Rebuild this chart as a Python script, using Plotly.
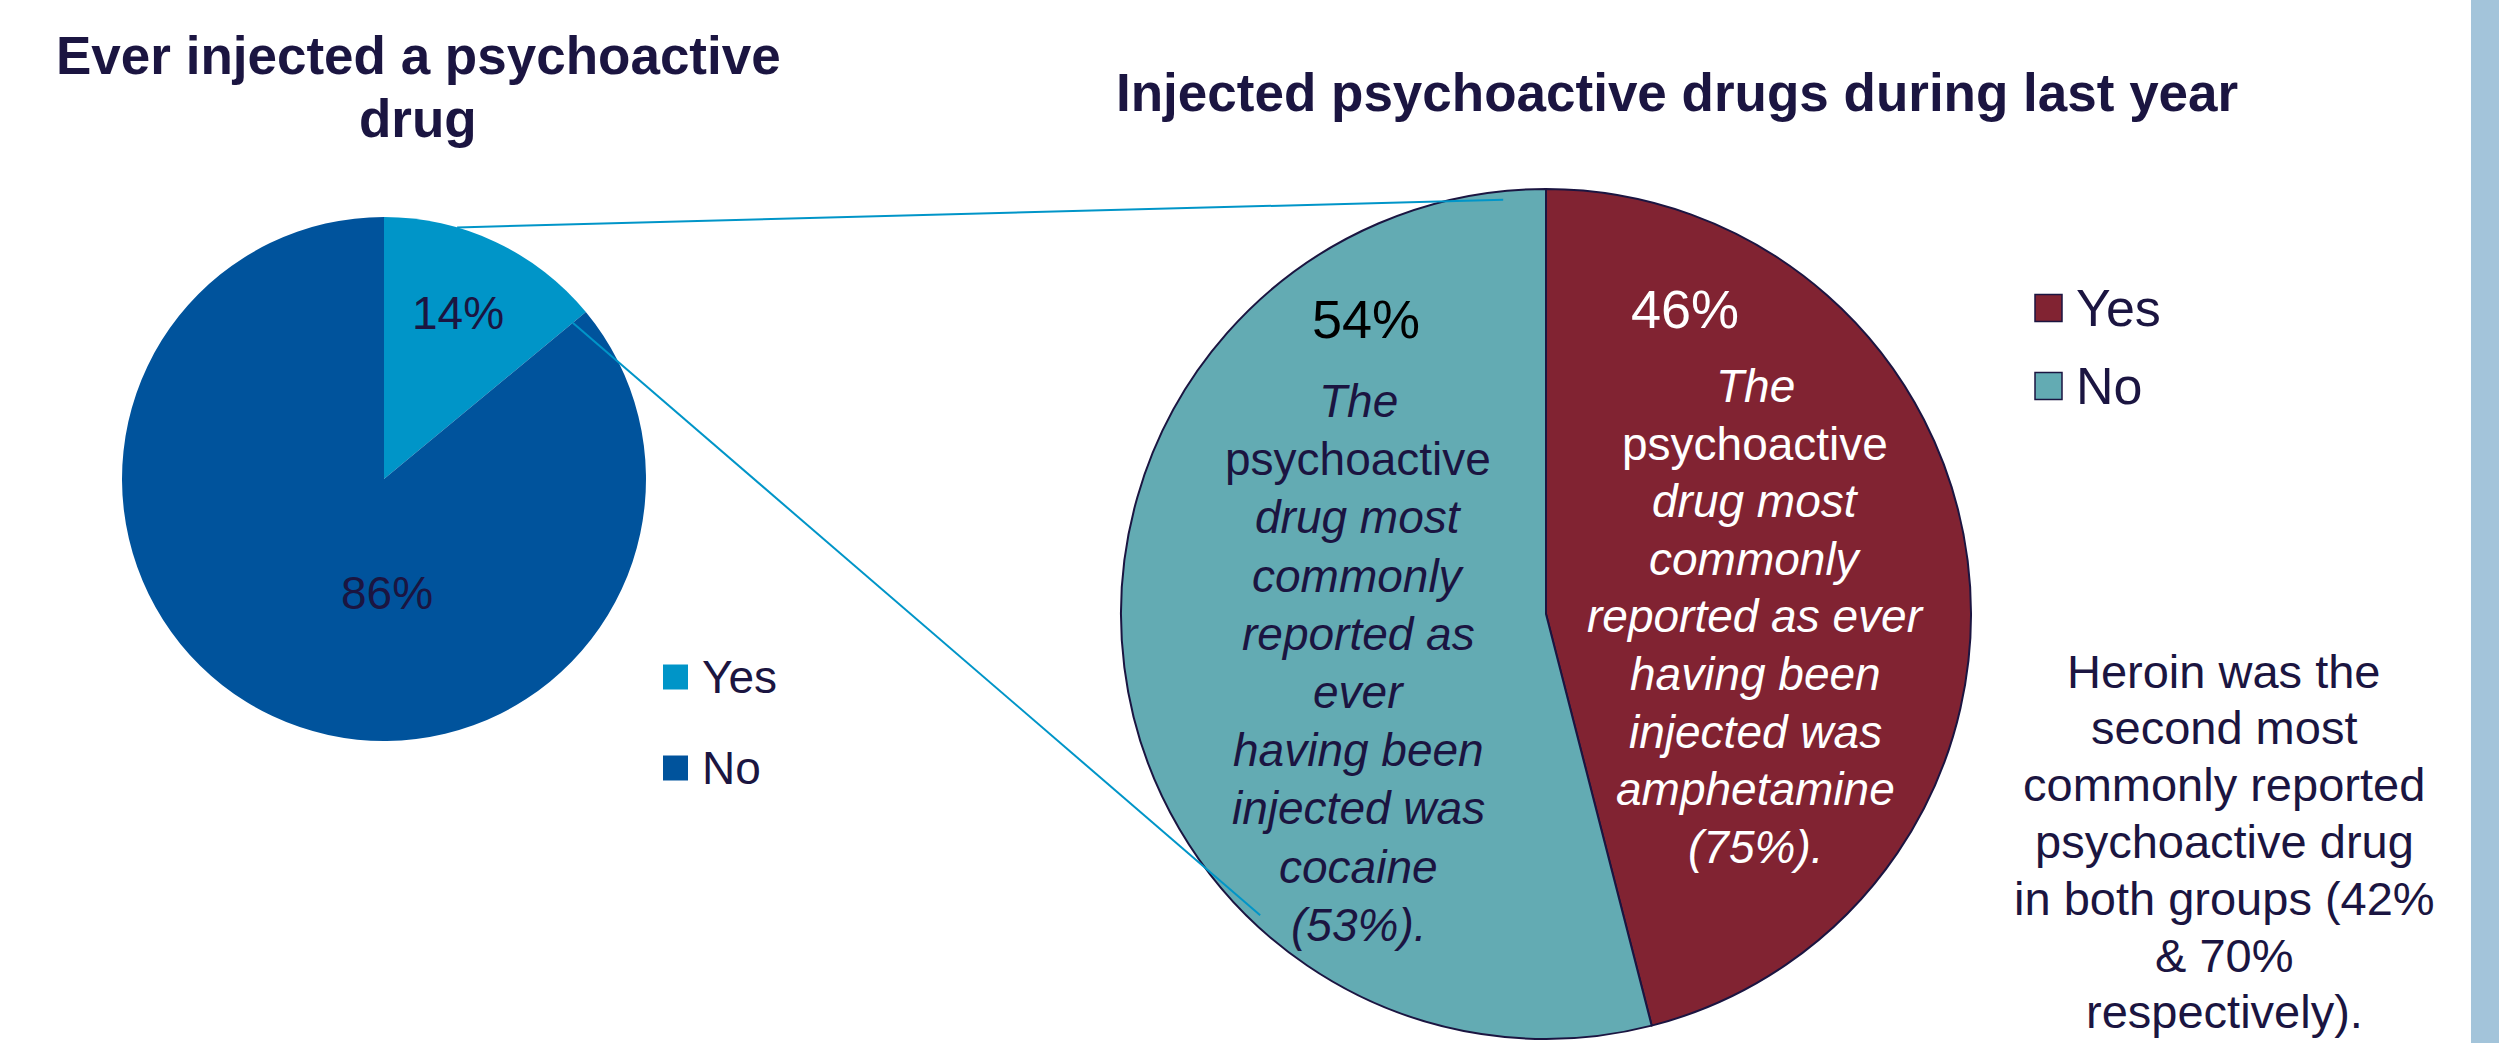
import math
import plotly.graph_objects as go

# ---- data ----
ever_labels = ["Yes", "No"]
ever_values = [14, 86]
last_year_labels = ["Yes", "No"]
last_year_values = [46, 54]

ever_colors = ["#0095C8", "#00539C"]
last_year_colors = ["#812332", "#63ABB3"]

title_left = ["Ever injected a psychoactive", "drug"]
title_right = "Injected psychoactive drugs during last year"

# (text, italic) for the notes placed inside the second pie
note_no = [("The", True), ("psychoactive", False), ("drug most", True), ("commonly", True),
           ("reported as", True), ("ever", True), ("having been", True), ("injected was", True),
           ("cocaine", True), ("(53%).", True)]
note_yes = [("The", True), ("psychoactive", False), ("drug most", True), ("commonly", True),
            ("reported as ever", True), ("having been", True), ("injected was", True),
            ("amphetamine", True), ("(75%).", True)]
heroin_note = ["Heroin was the", "second most", "commonly reported", "psychoactive drug",
               "in both groups (42%", "& 70%", "respectively)."]

# ---- layout constants (pixels) ----
W, H = 2499, 1043
NAVY = "#1B1541"
FONT = "Liberation Sans, Arial, sans-serif"

left_pie = dict(cx=384, cy=479, r=262)
right_pie = dict(cx=1546, cy=614, r=425)


def px(x, y):
    return x / W, 1 - y / H


def domain(p):
    return dict(x=[(p["cx"] - p["r"]) / W, (p["cx"] + p["r"]) / W],
                y=[1 - (p["cy"] + p["r"]) / H, 1 - (p["cy"] - p["r"]) / H])


def on_pie(p, angle_deg, frac):
    # angle measured clockwise from 12 o'clock
    a = math.radians(angle_deg)
    return px(p["cx"] + frac * p["r"] * math.sin(a), p["cy"] - frac * p["r"] * math.cos(a))


fig = go.Figure()
fig.add_trace(go.Pie(labels=ever_labels, values=ever_values, sort=False,
                     direction="clockwise", rotation=0, textinfo="none",
                     marker=dict(colors=ever_colors, line=dict(width=0)),
                     domain=domain(left_pie), showlegend=False))
fig.add_trace(go.Pie(labels=last_year_labels, values=last_year_values, sort=False,
                     direction="clockwise", rotation=0, textinfo="none",
                     marker=dict(colors=last_year_colors, line=dict(color=NAVY, width=2)),
                     domain=domain(right_pie), showlegend=False))

annotations = []


def text_at(x, y, text, size, color=NAVY, xanchor="center", bold=False):
    xp, yp = px(x, y)
    if bold:
        text = f"<b>{text}</b>"
    annotations.append(dict(x=xp, y=yp, xref="paper", yref="paper", text=text,
                            showarrow=False, xanchor=xanchor, yanchor="middle",
                            font=dict(family=FONT, size=size, color=color)))


# titles
for i, line in enumerate(title_left):
    text_at(418, 55 + 64 * i, line, 53, bold=True)
text_at(1677, 92, title_right, 53, bold=True)

# percentage labels
text_at(458, 313, f"{ever_values[0]}%", 46)
text_at(387, 593, f"{ever_values[1]}%", 46)
text_at(1685, 309, f"{last_year_values[0]}%", 54, color="white")
text_at(1366, 319, f"{last_year_values[1]}%", 54, color="black")

# notes inside the second pie
for i, (line, it) in enumerate(note_no):
    text_at(1358, 401 + 58.2 * i, f"<i>{line}</i>" if it else line, 46)
for i, (line, it) in enumerate(note_yes):
    text_at(1755, 386 + 57.6 * i, f"<i>{line}</i>" if it else line, 46, color="white")

# side note
for i, line in enumerate(heroin_note):
    text_at(2224, 671 + 56.8 * i, line, 47)

shapes = []

# legends
for i, (lab, col) in enumerate(zip(ever_labels, ever_colors)):
    yc = 677 + 91 * i
    x0, y0 = px(663, yc - 12.5)
    x1, y1 = px(688, yc + 12.5)
    shapes.append(dict(type="rect", xref="paper", yref="paper", x0=x0, x1=x1, y0=y0, y1=y1,
                       fillcolor=col, line=dict(width=0)))
    text_at(700, yc, lab, 46, xanchor="left")

for i, (lab, col) in enumerate(zip(last_year_labels, last_year_colors)):
    yc = 308 + 78 * i
    x0, y0 = px(2035, yc - 13.5)
    x1, y1 = px(2062, yc + 13.5)
    shapes.append(dict(type="rect", xref="paper", yref="paper", x0=x0, x1=x1, y0=y0, y1=y1,
                       fillcolor=col, line=dict(color=NAVY, width=1.5)))
    text_at(2074, yc, lab, 52, xanchor="left")

# connector lines from the "Yes" slice to the breakdown pie
yes_edge = 360 * ever_values[0] / sum(ever_values)
connectors = [
    (on_pie(left_pie, 16.2, 1.0), on_pie(right_pie, -5.9, 0.98)),
    (on_pie(left_pie, yes_edge, 0.935), on_pie(right_pie, 223.5, 0.977)),
]
for (xa, ya), (xb, yb) in connectors:
    shapes.append(dict(type="line", xref="paper", yref="paper", x0=xa, y0=ya, x1=xb, y1=yb,
                       line=dict(color="#0095C8", width=2)))

# side band
bx0, _ = px(2471, 0)
shapes.append(dict(type="rect", xref="paper", yref="paper", x0=bx0, x1=1, y0=0, y1=1,
                   fillcolor="#A3C4DA", line=dict(width=0), layer="below"))

fig.update_layout(width=W, height=H, margin=dict(l=0, r=0, t=0, b=0),
                  paper_bgcolor="white", plot_bgcolor="white",
                  annotations=annotations, shapes=shapes,
                  font=dict(family=FONT, color=NAVY))

fig.write_html("out.html")
